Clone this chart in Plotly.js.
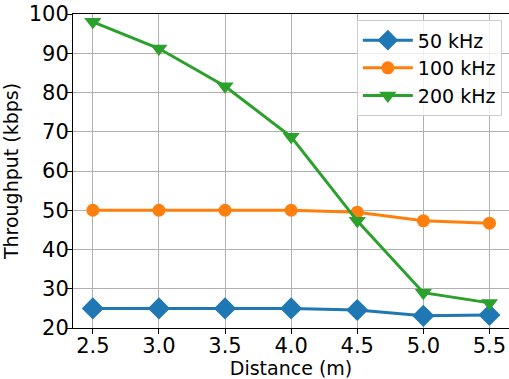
<!DOCTYPE html>
<html><head><meta charset="utf-8">
<script src="https://cdn.plot.ly/plotly-3.0.1.min.js"></script>
<style>html,body{margin:0;padding:0;background:#fff}#c{width:509px;height:379px}</style>
</head><body><div id="c"></div>
<script>
const distance = [2.5, 3.0, 3.5, 4.0, 4.5, 5.0, 5.5];
const tp50 = [25, 25, 25, 25, 24.6, 23.1, 23.3];
const tp100 = [50, 50, 50, 50, 49.5, 47.3, 46.7];
const tp200 = [98, 91.2, 81.6, 68.7, 47.3, 29, 26.4];
const seriesNames = ['50 kHz', '100 kHz', '200 kHz'];
const xTicks = [2.5, 3.0, 3.5, 4.0, 4.5, 5.0, 5.5];
const xTickText = ['2.5', '3.0', '3.5', '4.0', '4.5', '5.0', '5.5'];
const yTicks = [20, 30, 40, 50, 60, 70, 80, 90, 100];

const font = 'DejaVu Sans, sans-serif';
function tr(y, name, color, symbol, size) {
  return {x: distance, y: y, name: name, type: 'scatter', mode: 'lines+markers',
    line: {color: color, width: 3}, marker: {color: color, symbol: symbol, size: size}};
}
const data = [
  tr(tp50, seriesNames[0], '#1f77b4', 'diamond', 17),
  tr(tp100, seriesNames[1], '#ff7f0e', 'circle', 13),
  tr(tp200, seriesNames[2], '#2ca02c', 'triangle-down', 15)
];
const layout = {
  width: 509, height: 379,
  margin: {l: 73, r: 0, t: 14, b: 51},
  paper_bgcolor: '#fff', plot_bgcolor: '#fff',
  font: {family: font, color: '#000', size: 19},
  xaxis: {range: [2.35, 5.648], tickvals: xTicks, ticktext: xTickText,
    showgrid: true, gridcolor: '#b0b0b0', gridwidth: 1,
    showline: true, linecolor: '#000', linewidth: 1, mirror: true,
    ticks: 'outside', ticklen: 5, tickcolor: '#000', zeroline: false,
    ticklabelstandoff: -6,
    tickfont: {size: 21, family: font},
    title: {text: 'Distance (m)', font: {size: 19, family: font}, standoff: 2}},
  yaxis: {range: [20, 100], tickvals: yTicks,
    showgrid: true, gridcolor: '#b0b0b0', gridwidth: 1,
    showline: true, linecolor: '#000', linewidth: 1, mirror: false,
    ticks: 'outside', ticklen: 5, tickcolor: '#000', zeroline: false,
    ticklabelstandoff: -6,
    tickfont: {size: 21, family: font},
    title: {text: 'Throughput (kbps)', font: {size: 19, family: font}, standoff: 8}},
  legend: {x: 0.651, y: 0.98, xanchor: 'left', yanchor: 'top',
    bgcolor: 'rgba(255,255,255,0.8)', bordercolor: '#cccccc', borderwidth: 1,
    font: {size: 19, family: font}, itemwidth: 50},
  showlegend: true
};
Plotly.newPlot('c', data, layout, {displayModeBar: false, staticPlot: true});
</script></body></html>
